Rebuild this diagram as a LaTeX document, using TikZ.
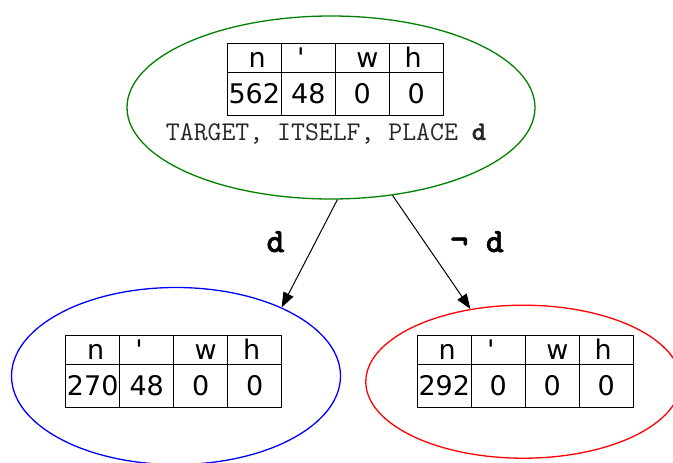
\documentclass[tikz,border=0pt]{standalone}
\usepackage{fontspec}
\usepackage{xcolor}
\usepackage{tikz}
\usetikzlibrary{shapes.geometric,arrows.meta}

\newfontfamily\tblfont{DejaVu Sans}
\newfontfamily\ttbold{lmmonolt10-bold.otf}[FakeBold=1.5]

\definecolor{gvgreen}{RGB}{0,128,0}
\definecolor{gvblue}{RGB}{0,0,255}
\definecolor{gvred}{RGB}{255,0,0}

\tikzset{
  state/.style={ellipse,draw,line width=1.3pt,inner sep=0pt},
  tblline/.style={line width=1pt},
  cell/.style={inner sep=0pt,anchor=base,font=\tblfont\fontsize{27}{32}\selectfont},
  edgelbl/.style={inner sep=0pt,font=\ttbold\fontsize{34}{38}\selectfont},
  edge/.style={line width=1pt,-{Triangle[length=15pt,width=11pt]}}
}

% one table of counts: #1 prefix, #2 top left corner, #3-#6 counts
\newcommand{\counttable}[6]{%
  \begin{scope}[shift={#2}]
    \draw[tblline] (0,0) rectangle (216,72);
    \draw[tblline] (0,29) -- (216,29);
    \foreach \cx in {54,108,162} \draw[tblline] (\cx,0) -- (\cx,72);
    \node[cell] (#1-hn) at (30,24) {n};
    \node[cell] (#1-hq) at (73.5,24) {'};
    \node[cell] (#1-hw) at (140,24) {w};
    \node[cell] (#1-hh) at (186,24) {h};
    \node[cell] (#1-n) at (27,60) {#3};
    \node[cell] (#1-q) at (81,60) {#4};
    \node[cell] (#1-w) at (135,60) {#5};
    \node[cell] (#1-h) at (189,60) {#6};
  \end{scope}}

\begin{document}
\begin{tikzpicture}[x=1pt,y=1pt,yscale=-1,xscale=1]
\useasboundingbox (0,0) rectangle (673,463);

% the three states
\node[state,draw=gvgreen,minimum width=408,minimum height=183] (root) at (331,107.5) {};
\node[state,draw=gvblue,minimum width=329,minimum height=177] (yes) at (176,376) {};
\node[state,draw=gvred,minimum width=315,minimum height=153] (no) at (523.3,381.7) {};

\counttable{rt}{(227.3,43.3)}{562}{48}{0}{0}
\counttable{ys}{(65.7,335.7)}{270}{48}{0}{0}
\counttable{ns}{(417.3,335.7)}{292}{0}{0}{0}

\node[inner sep=0pt,anchor=base,text=black!85,font=\ttfamily\fontsize{27}{32}\selectfont] (rtlbl) at (326,140) {TARGET, ITSELF, PLACE {\ttbold d}};

% branches
\draw[edge] (root.-86) -- (yes.33);
\draw[edge] (root.-55) -- (no.126);

\node[edgelbl,anchor=base] (dlbl) at (275.5,252) {d};
\node[edgelbl,anchor=base west] (ndlbl) at (450,252) {¬ d};

\end{tikzpicture}
\end{document}
